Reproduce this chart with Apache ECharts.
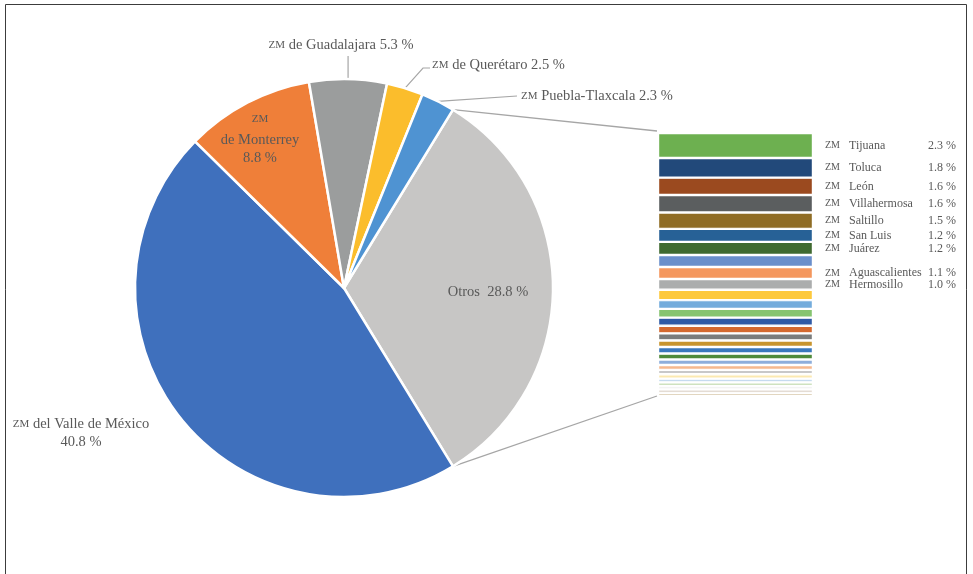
<!DOCTYPE html>
<html>
<head>
<meta charset="utf-8">
<script src="https://cdn.jsdelivr.net/npm/echarts@6/dist/echarts.min.js"></script>
<style>
  html, body { margin: 0; padding: 0; background: #fff; }
  #chart { width: 973px; height: 574px; }
</style>
</head>
<body>
<div id="chart"></div>
<script>
// Main pie: metropolitan zones and the grouped "Otros" share (%)
const pieNames  = ['Otros', 'ZM del Valle de México', 'ZM de Monterrey', 'ZM de Guadalajara', 'ZM de Querétaro', 'ZM Puebla-Tlaxcala'];
const pieValues = [28.8, 40.8, 8.8, 5.3, 2.5, 2.3];

// Breakdown of "Otros" drawn as a stacked bar (unnamed zones are null)
const barNames = ['ZM Tijuana', 'ZM Toluca', 'ZM León', 'ZM Villahermosa', 'ZM Saltillo', 'ZM San Luis', 'ZM Juárez',
                  null, 'ZM Aguascalientes', 'ZM Hermosillo',
                  null, null, null, null, null, null, null, null, null,
                  null, null, null, null, null, null, null, null, null];
const barValues = [2.3, 1.8, 1.6, 1.6, 1.5, 1.2, 1.2,
                   1.1, 1.1, 1.0,
                   0.95, 0.8, 0.8, 0.75, 0.7, 0.65, 0.6, 0.6, 0.55,
                   0.5, 0.45, 0.4, 0.4, 0.35, 0.35, 0.3, 0.3, 0.3];

// Styling
const pieColors = ['#c7c6c5', '#3f70bd', '#ef7f39', '#9b9d9d', '#fbbd2c', '#4f93d2'];
const barColors = ['#6db050', '#22497a', '#9b4a1f', '#5b5e5f', '#8f6c24', '#276196', '#3f6a30',
                   '#6a8fcb', '#f4975e', '#abadad',
                   '#fdc93e', '#74acdc', '#86c470', '#2f5aa6', '#d4692f', '#7a7c7c', '#c8952f', '#3a78bd', '#4f8a3a',
                   '#8eaedb', '#f6b88e', '#c8c8c8', '#fbe9b0', '#c6dbef', '#cfe2c0', '#e6e6e6', '#c9b8a8', '#d8c9ab'];

const FONT = 'Liberation Serif';
const TXT = '#595959';
const PIE_C = [344, 288];
const PIE_R = 209;
const GRID = { left: 658, top: 133, width: 155, height: 263 };

// Label placement for each pie slice (same order as pieNames)
const pieLabelPos = [
  { x: 488, y: 292, align: 'center' },
  { x: 81,  y: 433, align: 'center' },
  { x: 260, y: 137, align: 'center' },
  { x: 341, y: 45,  align: 'center', line: [[0, 56]] },
  { x: 432, y: 65,  align: 'left',   line: [[423, 68], [430, 68]] },
  { x: 521, y: 96,  align: 'left',   line: [[517, 96], [517, 96]] }
];

const pieSum = pieValues.reduce((a, b) => a + b, 0);
const barSum = barValues.reduce((a, b) => a + b, 0);
// "Otros" is centred on the right-hand side, facing the bar
const otrosHalf = pieValues[0] / pieSum * 180;

const rich = {
  sc:  { fontFamily: FONT, fontSize: 11, color: TXT },
  sct: { fontFamily: FONT, fontSize: 11, color: TXT, lineHeight: 24 },
  t:   { fontFamily: FONT, fontSize: 14.5, color: TXT, lineHeight: 18 },
  s2:  { fontFamily: FONT, fontSize: 10, color: TXT, width: 24 },
  n:   { fontFamily: FONT, fontSize: 12, color: TXT, width: 79 },
  v:   { fontFamily: FONT, fontSize: 12, color: TXT }
};

const fmt = v => v.toFixed(1) + ' %';

function pieLabel(p) {
  const i = p.dataIndex;
  const hasZm = p.name.startsWith('ZM ');
  const rest = hasZm ? p.name.slice(2) : p.name;
  if (i === 0) return '{t|' + p.name + '  ' + fmt(p.value) + '}';
  if (i === 1) return '{sc|ZM}{t|' + rest + '}\n{t|' + fmt(p.value) + '}';
  if (i === 2) return '{sct|ZM}\n{t|' + rest.trim() + '}\n{t|' + fmt(p.value) + '}';
  return (hasZm ? '{sc|ZM}' : '') + '{t|' + rest + ' ' + fmt(p.value) + '}';
}

const pieData = pieNames.map((n, i) => ({
  name: n,
  value: pieValues[i],
  itemStyle: { color: pieColors[i] },
  labelLine: { show: !!pieLabelPos[i].line }
}));

const barSeries = barValues.map((v, i) => ({
  type: 'bar',
  stack: 'otros',
  data: [v],
  barWidth: '100%',
  silent: true,
  itemStyle: { color: barColors[i], borderColor: '#ffffff', borderWidth: 1.2 },
  label: {
    show: !!barNames[i],
    position: 'right',
    distance: 12,
    rich: rich,
    formatter: () => '{s2|ZM}{n|' + barNames[i].slice(3) + '}{v|' + fmt(v) + '}'
  }
}));

const chart = echarts.init(document.getElementById('chart'), null, { renderer: 'canvas' });

// Connector lines from the edges of "Otros" to the bar's corners
const a = otrosHalf * Math.PI / 180;
const topEdge = [PIE_C[0] + PIE_R * Math.cos(a), PIE_C[1] - PIE_R * Math.sin(a)];
const botEdge = [PIE_C[0] + PIE_R * Math.cos(a), PIE_C[1] + PIE_R * Math.sin(a)];

chart.setOption({
  animation: false,
  backgroundColor: '#ffffff',
  grid: { left: GRID.left, top: GRID.top, width: GRID.width, height: GRID.height },
  xAxis: { type: 'category', data: ['Otros'], show: false },
  yAxis: { type: 'value', min: 0, max: barSum, inverse: true, show: false },
  graphic: [
    { type: 'rect', silent: true, z: 0,
      shape: { x: 5.5, y: 4.5, width: 961, height: 620 },
      style: { fill: 'none', stroke: '#3c3c3c', lineWidth: 1 } },
    { type: 'line', silent: true, z: 1,
      shape: { x1: topEdge[0], y1: topEdge[1], x2: GRID.left - 1, y2: GRID.top - 2 },
      style: { stroke: '#a6a6a6', lineWidth: 1.3 } },
    { type: 'line', silent: true, z: 1,
      shape: { x1: botEdge[0], y1: botEdge[1], x2: GRID.left - 1, y2: GRID.top + GRID.height },
      style: { stroke: '#a6a6a6', lineWidth: 1.3 } }
  ],
  series: [
    {
      type: 'pie',
      center: PIE_C,
      radius: PIE_R,
      startAngle: otrosHalf,
      clockwise: true,
      avoidLabelOverlap: false,
      silent: true,
      data: pieData,
      itemStyle: { borderColor: '#ffffff', borderWidth: 2.5 },
      label: {
        show: true,
        position: 'outside',
        formatter: pieLabel,
        rich: rich,
        align: 'center'
      },
      labelLine: { show: true, lineStyle: { color: '#a6a6a6', width: 1.2 } },
      labelLayout: function (p) {
        const L = pieLabelPos[p.dataIndex];
        const out = { x: L.x, y: L.y, align: L.align, verticalAlign: 'middle' };
        if (L.line && p.labelLinePoints) {
          const s = p.labelLinePoints[0];
          if (L.line.length === 1) {
            out.labelLinePoints = [s, [s[0], L.line[0][1]], [s[0], L.line[0][1]]];
          } else {
            out.labelLinePoints = [s, L.line[0], L.line[1]];
          }
        }
        return out;
      }
    }
  ].concat(barSeries)
});
</script>
</body>
</html>
